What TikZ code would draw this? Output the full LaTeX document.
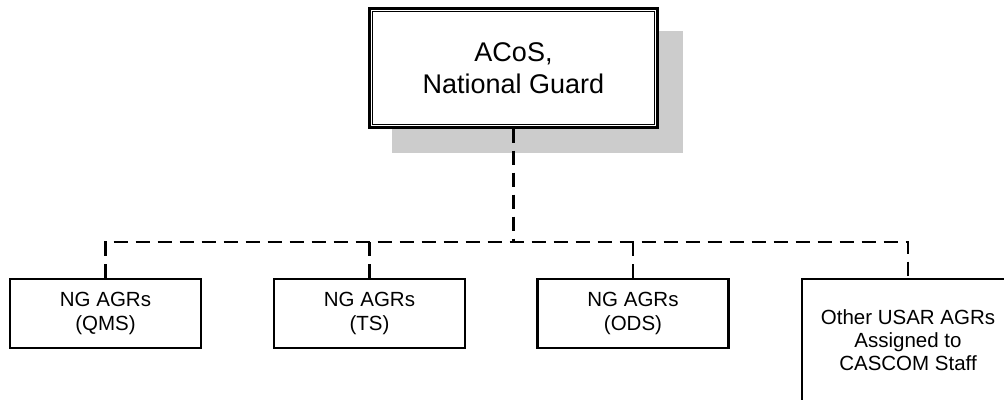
\documentclass[tikz,border=0pt]{standalone}
\usepackage{fontspec}
\setmainfont{Liberation Sans}
\usepackage{tikz}
\usetikzlibrary{backgrounds}

\begin{document}
\begin{tikzpicture}[x=1pt,y=-1pt,
    chief/.style={draw,fill=white,line width=2.4pt,minimum width=288pt,minimum height=119pt,
      align=center,font=\fontsize{27}{31.6}\selectfont},
    unit/.style={draw,line width=2.2pt,minimum width=191pt,minimum height=69pt,
      inner sep=0pt,align=center,font=\fontsize{20.5}{23.3}\selectfont},
    link/.style={line width=2.2pt,dash pattern=on 14pt off 8pt}]
    \useasboundingbox (0,0) rectangle (1004,399);
    \clip (0,0) rectangle (1004,399);
    % chief of staff box, double frame and shadow
    \node[chief] (acos) at (513.5,68) {ACoS,\\National Guard};
    \draw[line width=1.2pt] ([shift={(4.5,4.5)}]acos.north west) rectangle ([shift={(-4.5,-4.5)}]acos.south east);
    \begin{scope}[on background layer]
        \fill[black!20] ([shift={(24,24)}]acos.north west) rectangle ([shift={(24,24)}]acos.south east);
    \end{scope}
    % staff elements
    \node[unit] (qms) at (105.5,313.5) {NG AGRs\\(QMS)};
    \node[unit] (ts) at (369.5,313.5) {NG AGRs\\(TS)};
    \node[unit] (ods) at (633,313.5) {NG AGRs\\(ODS)};
    \node[unit,minimum width=212pt,minimum height=122pt] (other) at (908,340)
        {Other USAR AGRs\\Assigned to\\CASCOM Staff};
    % dashed links
    \coordinate (hub) at (513.5,242);
    \draw[link] (acos.south) -- (hub);
    \draw[link] (qms.north) |- (other.north |- hub) -- (other.north);
    \draw[link] (ts.north) -- (ts.north |- hub);
    \draw[link] (ods.north) -- (ods.north |- hub);
\end{tikzpicture}
\end{document}
